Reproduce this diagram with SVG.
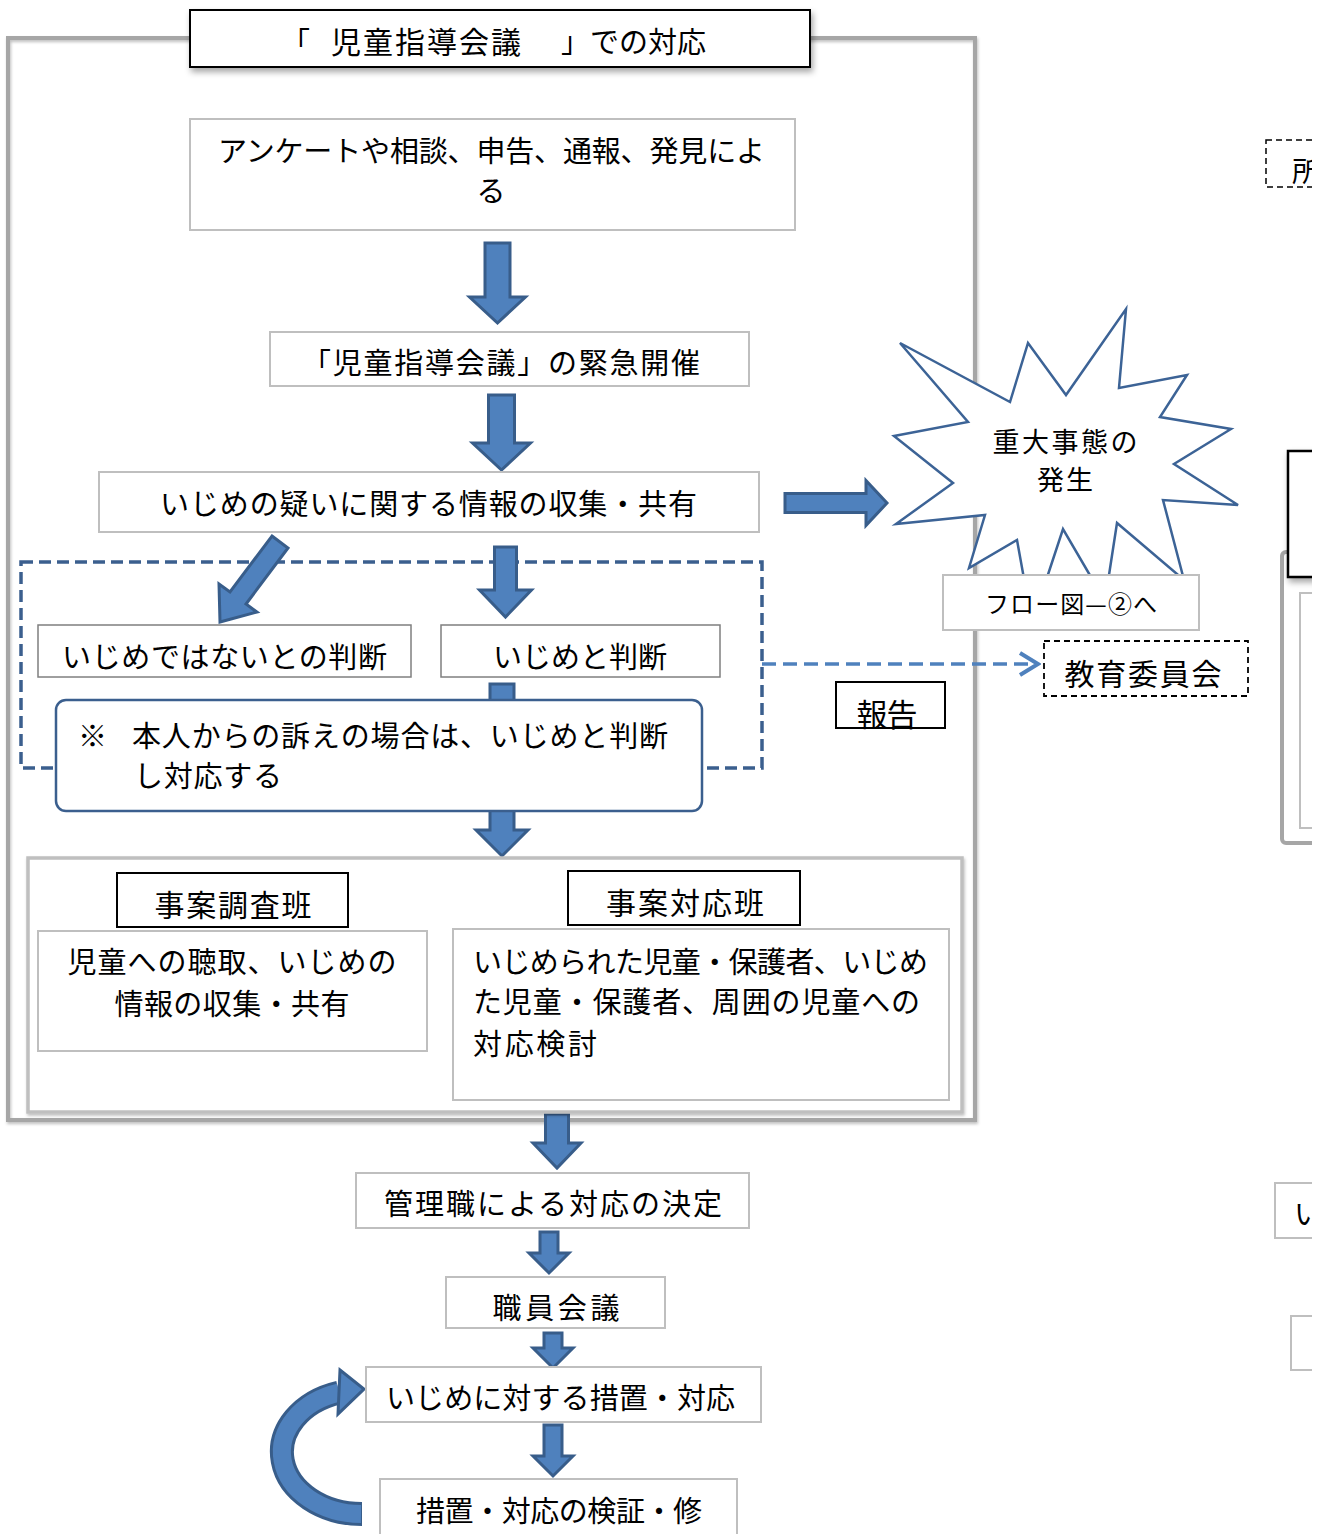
<svg xmlns="http://www.w3.org/2000/svg" width="1324" height="1534" viewBox="0 0 1324 1534">
<defs>
<style>
text{font-family:"Noto Sans CJK JP","Noto Sans CJK SC",sans-serif;fill:#000;dominant-baseline:central}
.t{font-size:29px}
.box{fill:#fff;stroke:#bfbfbf;stroke-width:2}
.dbox{fill:#fff;stroke:#7f7f7f;stroke-width:1.5}
.bbox{fill:#fff;stroke:#000;stroke-width:2}
.arr{fill:#4f81bd;stroke:#385d8a;stroke-width:3;stroke-linejoin:miter}
.frame{fill:none;stroke:#a6a6a6;stroke-width:4}
.iframe{fill:#fff;stroke:#bfbfbf;stroke-width:3.5}
</style>
<filter id="sh" x="-10%" y="-20%" width="130%" height="160%"><feDropShadow dx="2" dy="4" stdDeviation="3" flood-color="#000" flood-opacity="0.35"/></filter>
<filter id="sh2" x="-5%" y="-5%" width="110%" height="110%"><feDropShadow dx="1" dy="2" stdDeviation="1.5" flood-color="#000" flood-opacity="0.25"/></filter>
<clipPath id="page"><rect x="0" y="0" width="1312" height="1534"/></clipPath>
<marker id="chev" markerUnits="userSpaceOnUse" markerWidth="24" markerHeight="28" viewBox="0 0 24 28" refX="21" refY="14" orient="auto"><path d="M3,3 L21,14 L3,25" fill="none" stroke="#4f81bd" stroke-width="4"/></marker>
</defs>
<g clip-path="url(#page)">
<g id="outer-frame"><rect class="frame" x="8" y="38" width="967" height="1082" filter="url(#sh2)"/></g>
<g id="title"><rect x="190" y="10" width="620" height="57" fill="#fff" stroke="#000" stroke-width="2" filter="url(#sh)"/>
<text x="281" y="40" style="font-size:29px">「</text>
<text x="331" y="40" style="font-size:30px" textLength="190">児童指導会議</text>
<text x="561" y="40" style="font-size:29px" textLength="145">」での対応</text></g>

<g id="right-dashed"><rect x="1266" y="140" width="100" height="47" fill="#fff" stroke="#000" stroke-width="1.5" stroke-dasharray="6 4"/><text x="1292" y="170" style="font-size:28px">所</text></g>
<g id="right-frame"><rect x="1282" y="552" width="100" height="291" rx="4" class="frame"/><rect x="1300" y="593" width="60" height="235" class="box"/></g>
<g id="right-black"><rect x="1288" y="451" width="100" height="126" fill="#fff" stroke="#000" stroke-width="2.5" filter="url(#sh)"/></g>
<g id="right-box1"><rect x="1275" y="1183" width="100" height="55" class="box"/><text x="1294" y="1212" style="font-size:29px">い</text></g>
<g id="right-box2"><rect x="1291" y="1316" width="100" height="54" class="box"/></g>

<g id="judge-group"><rect x="21" y="562" width="741" height="206" fill="none" stroke="#3b5f8e" stroke-width="3.5" stroke-dasharray="12 6"/></g>

<g id="connectors">
<polygon class="arr" points="485,243 510,243 510,297 525.5,297 497.5,323 469.5,297 485,297"/>
<polygon class="arr" points="488.5,395 514.5,395 514.5,443 530.5,443 501.5,470 472.5,443 488.5,443"/>
<polygon class="arr" points="785,493.5 866,493.5 866,480.5 887,503 866,525.5 866,512.5 785,512.5"/>
<polygon class="arr" points="272,536 288,548 246,604 257,612 220,622 219,584 230,592"/>
<polygon class="arr" points="494.5,547 516.5,547 516.5,590 531.5,590 505.5,617 479.5,590 494.5,590"/>
<polygon class="arr" points="490,684 514,684 514,830 528,830 502,856 476,830 490,830"/>
<path d="M762,664 L1038,664" fill="none" stroke="#4f81bd" stroke-width="3.5" stroke-dasharray="14 7" marker-end="url(#chev)"/>
<polygon class="arr" points="545.5,1114 568.5,1114 568.5,1143 581,1143 557,1168 533,1143 545.5,1143"/>
<polygon class="arr" points="540,1232 558,1232 558,1253 569,1253 549,1273 529,1253 540,1253"/>
<polygon class="arr" points="544,1333 562,1333 562,1348 573,1348 553,1368 533,1348 544,1348"/>
<polygon class="arr" points="544,1425 562,1425 562,1456 573,1456 553,1476 533,1456 544,1456"/>
<path d="M362,1514 A80,62 0 0,1 339,1392.6" fill="none" stroke="#385d8a" stroke-width="24"/>
<path d="M361,1514 A80,62 0 0,1 339,1392.6" fill="none" stroke="#4f81bd" stroke-width="18"/>
<polygon class="arr" points="340,1370 364,1389 338,1414"/>
</g>

<g id="n-source"><rect class="box" x="190" y="119" width="605" height="111"/>
<text class="t" x="218" y="149" textLength="547">アンケートや相談、申告、通報、発見によ</text>
<text class="t" x="491" y="189" text-anchor="middle">る</text></g>
<g id="n-meeting"><rect class="box" x="270" y="332" width="479" height="54"/>
<text class="t" x="302" y="361" textLength="398">「児童指導会議」の緊急開催</text></g>
<g id="n-collect"><rect class="box" x="99" y="472" width="660" height="60"/>
<text class="t" x="428.5" y="502" text-anchor="middle" textLength="537">いじめの疑いに関する情報の収集・共有</text></g>

<g id="n-star"><polygon points="900,343 1010,402 1028,343 1066,395 1126,309 1119,388 1187,375 1160,417 1231,429 1174,464 1238,505 1163,500 1184,580 1117,523 1105,601 1063,529 1032,623 1017,540 969,568 985,515 896,524 953,483 894,436 968,422" fill="#fff" stroke="#3c6396" stroke-width="2.5" stroke-linejoin="miter"/>
<text x="1065" y="440" text-anchor="middle" style="font-size:27px" textLength="145">重大事態の</text>
<text x="1065" y="478" text-anchor="middle" style="font-size:27px" textLength="56">発生</text></g>
<g id="n-flow2"><rect class="box" x="943" y="575" width="256" height="55"/>
<text x="1071" y="602" text-anchor="middle" style="font-size:24px" textLength="172">フロー図—②へ</text></g>

<g id="n-not"><rect class="dbox" x="38" y="625" width="373" height="52"/>
<text class="t" x="224.5" y="655" text-anchor="middle" textLength="325">いじめではないとの判断</text></g>
<g id="n-is"><rect class="dbox" x="441" y="625" width="279" height="52"/>
<text class="t" x="580" y="655" text-anchor="middle" textLength="174">いじめと判断</text></g>
<g id="n-note"><rect x="56" y="700" width="646" height="111" rx="10" fill="#fff" stroke="#3b5f8e" stroke-width="2.5"/>
<text class="t" x="78" y="734">※</text>
<text class="t" x="132" y="734" textLength="536">本人からの訴えの場合は、いじめと判断</text>
<text class="t" x="134" y="774" textLength="148">し対応する</text></g>

<g id="n-board"><rect x="1044" y="641" width="204" height="55" fill="#fff" stroke="#000" stroke-width="1.8" stroke-dasharray="6 4"/>
<text x="1143" y="672" text-anchor="middle" style="font-size:30px" textLength="157">教育委員会</text></g>
<g id="n-report"><rect class="bbox" x="836" y="682" width="109" height="46"/>
<text x="887" y="712" text-anchor="middle" style="font-size:31px" textLength="61">報告</text></g>

<g id="n-teams"><rect class="iframe" x="28" y="858" width="934" height="254" filter="url(#sh2)"/></g>
<g id="n-survey"><rect class="bbox" x="117" y="873" width="231" height="54"/>
<text x="233" y="903" text-anchor="middle" style="font-size:30px" textLength="157">事案調査班</text></g>
<g id="n-survey-body"><rect class="box" x="38" y="931" width="389" height="120"/>
<text class="t" x="232" y="960" text-anchor="middle" textLength="329">児童への聴取、いじめの</text>
<text class="t" x="232" y="1002" text-anchor="middle" textLength="235">情報の収集・共有</text></g>
<g id="n-response"><rect class="bbox" x="568" y="871" width="232" height="54"/>
<text x="685" y="901" text-anchor="middle" style="font-size:30px" textLength="158">事案対応班</text></g>
<g id="n-response-body"><rect class="box" x="453" y="929" width="496" height="171"/>
<text class="t" x="473" y="960" textLength="455">いじめられた児童・保護者、いじめ</text>
<text class="t" x="473" y="1000" textLength="447">た児童・保護者、周囲の児童への</text>
<text class="t" x="473" y="1042" textLength="124">対応検討</text></g>

<g id="n-decide"><rect class="box" x="356" y="1173" width="393" height="55"/>
<text class="t" x="553" y="1202" text-anchor="middle" textLength="338">管理職による対応の決定</text></g>
<g id="n-staff"><rect class="box" x="446" y="1277" width="219" height="51"/>
<text class="t" x="556" y="1306" text-anchor="middle" textLength="127">職員会議</text></g>
<g id="n-measure"><rect class="box" x="366" y="1367" width="395" height="55"/>
<text class="t" x="560.5" y="1396" text-anchor="middle" textLength="349">いじめに対する措置・対応</text></g>
<g id="n-verify"><rect class="box" x="380" y="1479" width="357" height="70"/>
<text class="t" x="559" y="1509" text-anchor="middle" textLength="286">措置・対応の検証・修</text></g>
</g>
</svg>
